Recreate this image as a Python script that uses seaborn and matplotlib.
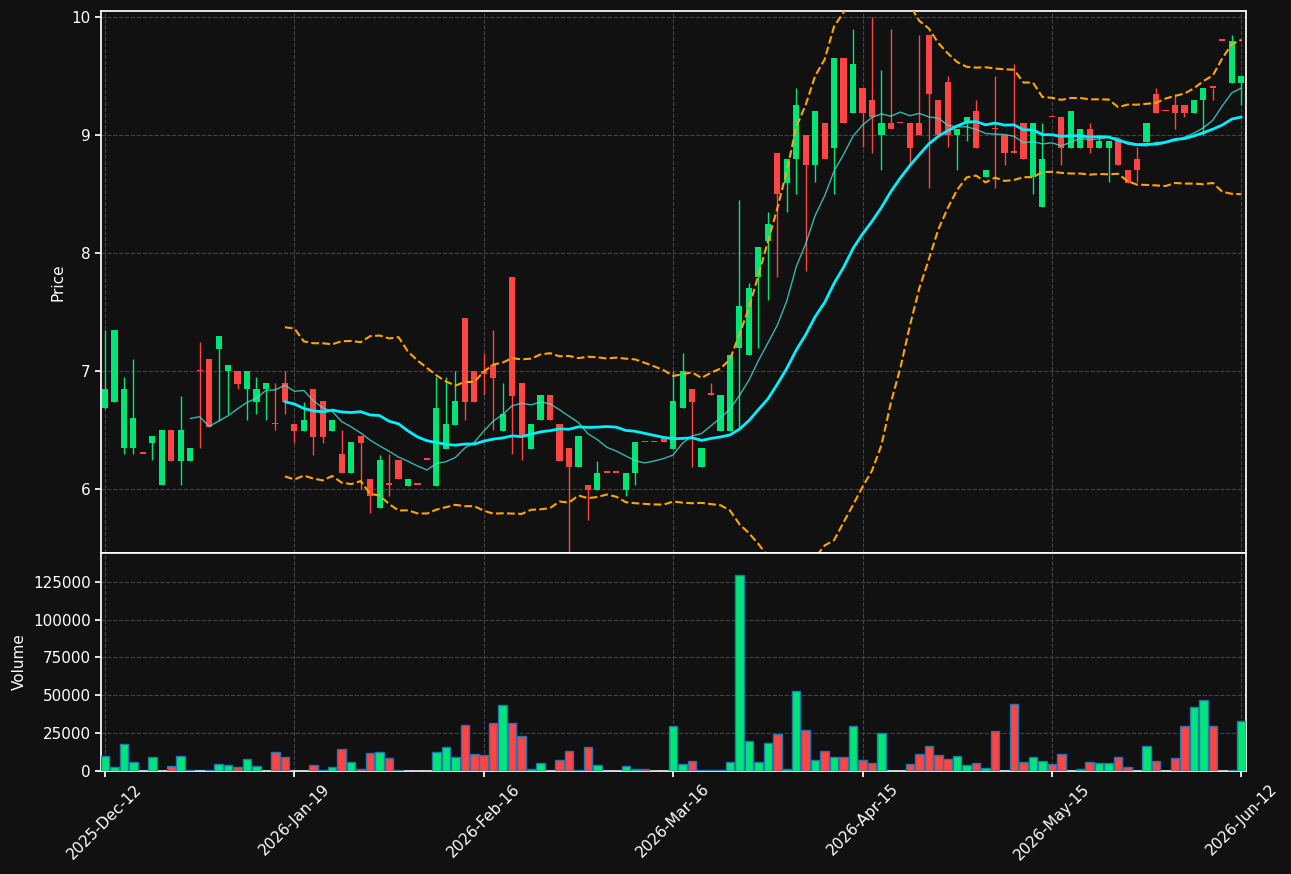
import numpy as np
import pandas as pd
import matplotlib
matplotlib.use("Agg")
import matplotlib.pyplot as plt
import seaborn as sns

opens = [6.69,6.74,6.35,6.35,6.30,6.39,6.04,6.50,6.24,6.24,7.00,7.10,7.19,7.00,7.00,6.85,6.74,6.85,6.55,6.90,
         6.55,6.49,6.85,6.75,6.49,6.30,6.14,6.45,6.09,5.84,6.04,6.25,6.03,6.04,6.25,6.03,6.34,6.54,7.45,7.00,
         7.00,7.05,6.49,7.80,6.90,6.34,6.59,6.80,6.55,6.35,6.19,6.04,5.99,6.14,6.14,5.99,6.14,6.40,6.40,6.44,
         6.34,6.69,6.85,6.19,6.80,6.49,6.49,7.20,7.14,7.80,8.10,8.85,8.59,8.80,9.00,8.75,9.10,8.89,9.65,9.19,
         9.40,9.30,9.00,9.10,9.10,9.10,9.10,9.85,9.30,9.45,9.00,9.10,9.20,8.64,9.05,9.00,8.85,9.10,8.64,8.39,
         9.15,9.15,8.89,8.89,9.05,8.89,8.89,8.95,8.70,8.80,8.94,9.35,9.20,9.25,9.25,9.19,9.30,9.40,9.80,9.44,9.44]
highs = [7.35,7.35,6.95,7.10,6.30,6.45,6.50,6.50,6.79,6.35,7.25,7.10,7.30,7.05,7.00,7.00,6.95,6.90,6.90,7.00,
         6.55,6.74,6.85,6.75,6.59,6.50,6.40,6.45,6.09,6.29,6.30,6.25,6.09,6.04,6.25,6.95,6.95,7.00,7.45,7.00,
         7.15,7.35,6.90,7.80,6.90,6.55,6.80,6.80,6.55,6.35,6.45,6.04,6.24,6.14,6.14,6.14,6.40,6.40,6.40,6.44,
         7.00,7.15,6.85,6.35,6.90,6.80,7.14,8.45,7.75,8.05,8.35,8.85,8.80,9.40,9.00,9.20,9.10,9.65,9.65,9.90,
         9.40,10.0,9.55,9.90,9.10,9.10,9.85,9.85,9.30,9.50,9.05,9.15,9.30,8.70,9.50,9.00,9.60,9.10,9.10,9.10,
         9.15,9.15,9.20,9.05,9.10,9.00,8.95,8.95,8.70,8.90,9.10,9.40,9.20,9.35,9.25,9.30,9.40,9.40,9.80,9.85,9.50]
lows = [6.68,6.74,6.30,6.30,6.30,6.25,6.04,6.24,6.04,6.24,6.35,6.53,6.58,6.64,6.85,6.59,6.64,6.59,6.50,6.64,
        6.39,6.49,6.29,6.39,6.49,6.14,6.14,6.00,5.80,5.84,5.94,6.09,6.03,6.04,6.25,6.03,6.34,6.54,6.59,6.74,
        6.80,6.50,6.49,6.30,6.25,6.34,6.59,6.59,6.24,5.45,6.19,5.74,5.99,6.14,6.14,5.94,6.04,6.40,6.40,6.40,
        6.34,6.69,6.19,6.19,6.80,6.49,6.49,6.52,7.14,7.20,7.60,7.80,8.35,8.50,7.85,8.60,8.80,8.50,9.10,9.19,
        8.90,8.85,8.70,9.05,9.10,8.75,9.00,8.55,9.00,8.90,8.70,8.95,8.89,8.64,8.55,8.75,8.85,8.80,8.50,8.39,
        9.15,8.75,8.89,8.89,8.85,8.89,8.60,8.75,8.59,8.60,8.94,9.19,9.20,9.05,9.15,9.19,9.00,9.30,9.80,9.44,9.25]
closes = [6.85,7.35,6.85,6.60,6.30,6.45,6.50,6.24,6.50,6.35,7.00,6.53,7.30,7.05,6.89,7.00,6.85,6.90,6.55,6.74,
          6.49,6.59,6.44,6.44,6.59,6.14,6.40,6.39,5.94,6.25,6.04,6.09,6.09,6.04,6.25,6.69,6.55,6.75,6.74,6.74,
          6.98,6.94,6.64,6.79,6.46,6.55,6.80,6.59,6.24,6.19,6.45,5.99,6.14,6.14,6.14,6.14,6.40,6.40,6.40,6.40,
          6.75,7.00,6.74,6.35,6.80,6.80,7.14,7.55,7.70,8.05,8.25,8.50,8.80,9.25,8.75,9.20,8.80,9.65,9.10,9.60,
          9.19,9.15,9.10,9.05,9.10,8.89,9.00,9.35,9.00,9.00,9.05,9.15,8.89,8.70,9.05,8.85,8.85,8.80,9.10,8.80,
          9.15,8.89,9.20,9.05,8.89,8.95,8.95,8.75,8.59,8.70,9.10,9.19,9.20,9.19,9.19,9.30,9.40,9.40,9.80,9.80,9.50]
volumes = [10000,2650,18100,6200,0,9500,0,3500,10200,900,300,400,4900,4200,2650,8200,3500,0,12800,9500,
           0,200,4200,900,2900,14800,6200,1500,12200,12800,8800,900,0,0,0,12800,16100,9500,30700,11500,
           10800,32000,43300,32000,23400,1500,5500,200,7500,13500,900,16100,4200,0,0,3500,1500,1500,0,0,
           30000,4900,6900,400,900,900,6200,129600,20100,6200,18800,24750,1500,52600,27400,7500,13500,9300,9300,30000,
           7500,5500,25400,200,0,4900,11500,16800,10800,8200,10200,4200,5500,2200,26700,200,44000,6200,9500,6900,
           4900,11500,200,1500,6200,5500,5500,9500,2900,0,16800,6900,200,8800,29400,42600,46600,29400,0,900,32700]
tick_labels = ["2025-Dec-12", "2026-Jan-19", "2026-Feb-16", "2026-Mar-16",
               "2026-Apr-15", "2026-May-15", "2026-Jun-12"]
tick_idx = [0, 20, 40, 60, 80, 100, 120]

BG = "#111111"
GREEN = "#00e676"
RED = "#ff4444"

sns.set_theme(style="darkgrid")
plt.rcParams.update({
    "figure.facecolor": BG, "axes.facecolor": BG, "axes.edgecolor": "white",
    "text.color": "white", "axes.labelcolor": "white",
    "xtick.color": "white", "ytick.color": "white",
    "grid.color": "#444444", "grid.linestyle": "--", "grid.linewidth": 0.8,
})
plt.rcParams["font.family"] = ["DejaVu Sans"]

df = pd.DataFrame({"o": opens, "h": highs, "l": lows, "c": closes, "v": volumes})
df["i"] = np.arange(len(df))
up = df["c"] > df["o"]
colors = np.where(up, GREEN, RED)
df["ma10"] = df["c"].rolling(10).mean()
df["ma20"] = df["c"].rolling(20).mean()
sd = df["c"].rolling(20).std()
df["bu"] = df["ma20"] + 2 * sd
df["bl"] = df["ma20"] - 2 * sd

fig = plt.figure(figsize=(12.91, 8.74), dpi=100)
ax = fig.add_axes([101/1291, 1-553/874, 1145/1291, 542/874])
axv = fig.add_axes([101/1291, 1-771/874, 1145/1291, 218/874], sharex=ax)

ax.vlines(df["i"], df["l"], df["h"], colors=colors, linewidth=1, zorder=2)
bottom = np.minimum(df["o"], df["c"])
height = np.maximum(np.abs(df["c"] - df["o"]), 0.012)
ax.bar(df["i"], height, bottom=bottom, width=0.65, color=colors, linewidth=0, edgecolor="none", zorder=3)

sns.lineplot(data=df, x="i", y="ma10", ax=ax, color="#40e0d0", linewidth=1, alpha=0.8, zorder=4)
sns.lineplot(data=df, x="i", y="ma20", ax=ax, color="#00f0ff", linewidth=2, zorder=4)
sns.lineplot(data=df, x="i", y="bu", ax=ax, color="orange", linewidth=1.5, linestyle="--", zorder=4)
sns.lineplot(data=df, x="i", y="bl", ax=ax, color="orange", linewidth=1.5, linestyle="--", zorder=4)

ax.set_ylim(5.46, 10.05)
ax.set_xlim(-0.42, 120.5)
ax.set_ylabel("Price")
ax.set_xlabel("")
ax.set_yticks([6, 7, 8, 9, 10])
ax.tick_params(labelbottom=False)

axv.bar(df["i"], df["v"], width=0.9, color=colors, edgecolor="#1f77b4", linewidth=1, zorder=3)
axv.set_ylim(0, 144000)
axv.set_yticks([0, 25000, 50000, 75000, 100000, 125000])
axv.set_yticklabels(["0", "25000", "50000", "75000", "100000", "125000"])
axv.set_ylabel("Volume")
axv.set_xticks(tick_idx)
axv.set_xticklabels(tick_labels, rotation=45, ha="center")
for a in (ax, axv):
    a.grid(True)
    for s in a.spines.values():
        s.set_color("white")
        s.set_visible(True)
    a.tick_params(axis="both", length=4, color="white", labelsize=11, left=True, bottom=True)
ax.yaxis.label.set_size(11)
axv.yaxis.label.set_size(11)

fig.savefig("out.png", dpi=100, facecolor=BG)
